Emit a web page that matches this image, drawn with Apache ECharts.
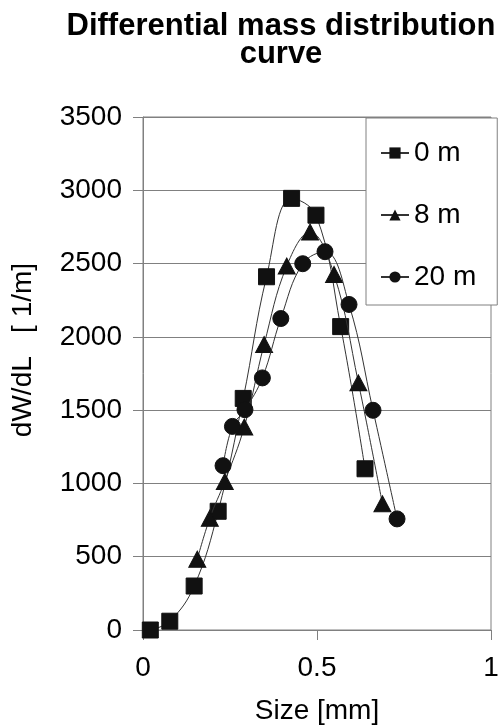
<!DOCTYPE html>
<html>
<head>
<meta charset="utf-8">
<script src="https://cdn.jsdelivr.net/npm/echarts@6/dist/echarts.min.js"></script>
<style>
html,body{margin:0;padding:0;background:#fff;}
#chart{width:499px;height:727px;}
</style>
</head>
<body>
<div id="chart"></div>
<script>
// Data
const seriesNames = ['0 m', '8 m', '20 m'];
const sizes0 = [0.021, 0.077, 0.147, 0.216, 0.288, 0.355, 0.427, 0.497, 0.568, 0.638];
const vals0  = [0, 60, 300, 810, 1580, 2410, 2945, 2830, 2070, 1100];
const sizes8 = [0.156, 0.192, 0.235, 0.291, 0.348, 0.413, 0.480, 0.549, 0.619, 0.688];
const vals8  = [483, 763, 1013, 1385, 1948, 2483, 2715, 2426, 1686, 861];
const sizes20 = [0.230, 0.257, 0.293, 0.343, 0.396, 0.459, 0.523, 0.592, 0.661, 0.730];
const vals20  = [1121, 1389, 1503, 1720, 2125, 2499, 2581, 2221, 1499, 758];
const xTicks = [0, 0.5, 1];
const yTicks = [0, 500, 1000, 1500, 2000, 2500, 3000, 3500];

const FONT = '"Liberation Sans", Arial, sans-serif';
const pair = (xs, ys) => xs.map((x, i) => [x, ys[i]]);

const chart = echarts.init(document.getElementById('chart'), null, {renderer: 'canvas'});
const symbols = ['rect', 'triangle', 'circle'];
const datasets = [pair(sizes0, vals0), pair(sizes8, vals8), pair(sizes20, vals20)];

chart.setOption({
  backgroundColor: '#fff',
  animation: false,
  title: {
    text: 'Differential mass distribution\ncurve',
    left: 281,
    top: 12,
    padding: 0,
    textAlign: 'center',
    textStyle: {fontFamily: FONT, fontSize: 31, fontWeight: 'bold', color: '#000', lineHeight: 28}
  },
  grid: {
    left: 143, right: 8, top: 117, bottom: 97,
    containLabel: false,
    outerBoundsMode: 'none',
    show: true, borderColor: '#808080', borderWidth: 1, backgroundColor: 'transparent'
  },
  legend: {
    orient: 'vertical',
    left: 366, top: 118,
    data: seriesNames,
    backgroundColor: '#fff',
    borderColor: '#808080', borderWidth: 1, borderRadius: 0,
    padding: [20, 21, 13, 14],
    itemGap: 32,
    itemWidth: 28, itemHeight: 14,
    textStyle: {fontFamily: FONT, fontSize: 28, color: '#000', lineHeight: 30}
  },
  xAxis: {
    type: 'value', min: xTicks[0], max: xTicks[xTicks.length - 1], interval: 0.5,
    name: 'Size [mm]', nameLocation: 'middle', nameGap: 67,
    nameTextStyle: {fontFamily: FONT, fontSize: 28, color: '#000'},
    axisLine: {show: true, lineStyle: {color: '#808080', width: 1}},
    axisTick: {show: true, inside: false, length: 10, lineStyle: {color: '#808080'}},
    axisLabel: {fontFamily: FONT, fontSize: 28, color: '#000', margin: 24, formatter: v => String(v)},
    splitLine: {show: false}
  },
  yAxis: {
    type: 'value', min: yTicks[0], max: yTicks[yTicks.length - 1], interval: 500,
    axisLine: {show: true, lineStyle: {color: '#808080', width: 1}},
    axisTick: {show: true, inside: false, length: 10, lineStyle: {color: '#808080'}},
    axisLabel: {fontFamily: FONT, fontSize: 28, color: '#000', margin: 21, formatter: v => String(v)},
    splitLine: {show: true, lineStyle: {color: '#808080', width: 1}}
  },
  graphic: [{
    type: 'text',
    x: 23, y: 350,
    rotation: Math.PI / 2,
    style: {
      text: 'dW/dL   [ 1/m]',
      fontFamily: FONT, fontSize: 28, fill: '#000',
      textAlign: 'center', textVerticalAlign: 'middle'
    },
    z: 100
  }],
  series: seriesNames.map((name, i) => ({
    name: name,
    type: 'line',
    data: datasets[i],
    smooth: 0.4,
    symbol: symbols[i],
    symbolSize: i === 1 ? [17, 16] : 16,
    showAllSymbol: true,
    lineStyle: {color: '#333', width: 1},
    itemStyle: {color: '#111', borderColor: '#111'},
    z: 3 + i
  }))
});
</script>
</body>
</html>
